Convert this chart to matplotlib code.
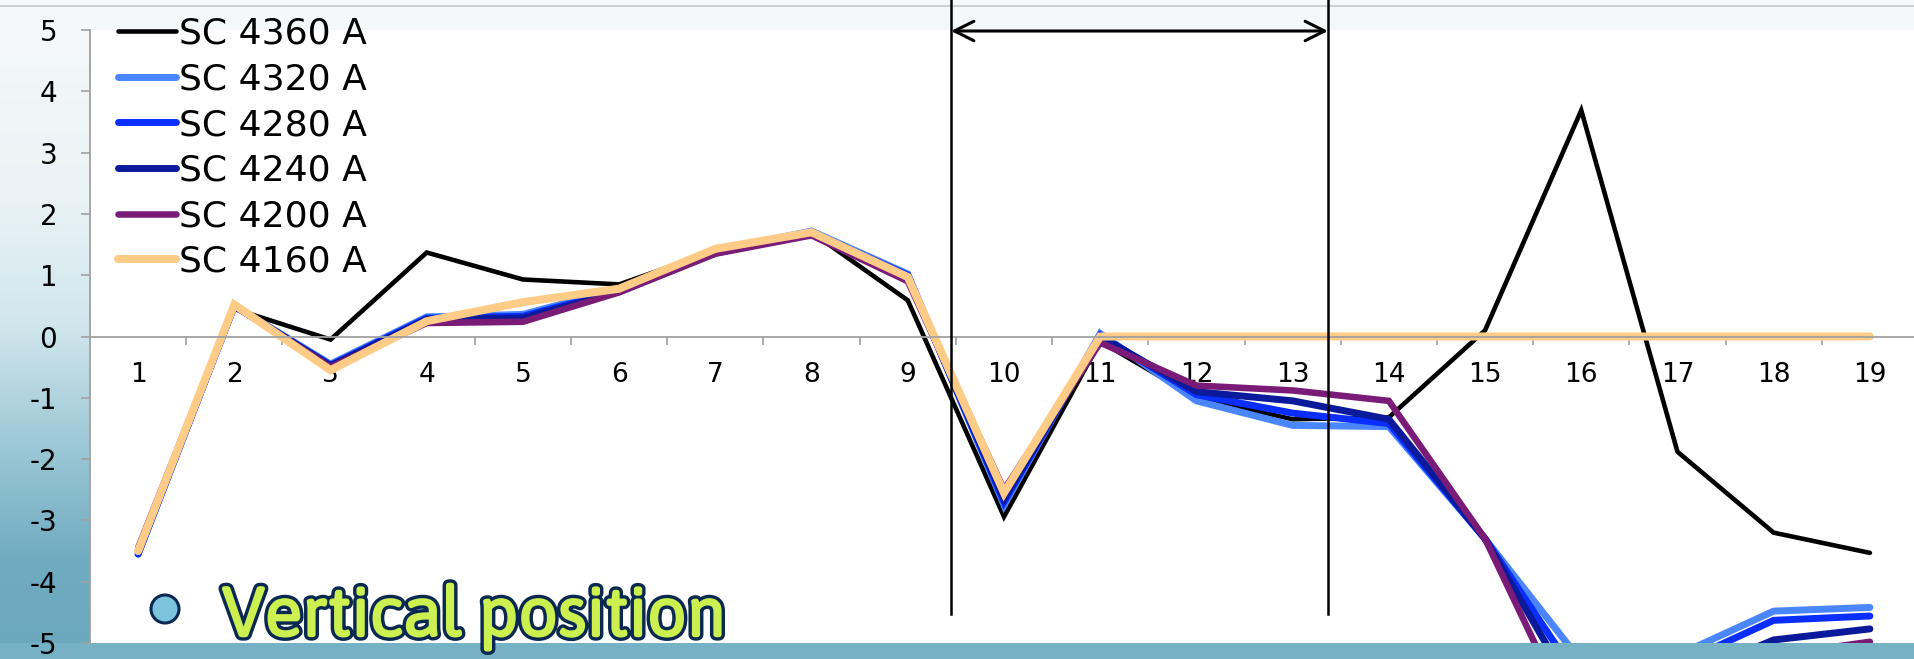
import numpy as np
import matplotlib
matplotlib.use("Agg")
import matplotlib.pyplot as plt
import matplotlib.patheffects as pe
from matplotlib.lines import Line2D
from matplotlib.patches import Ellipse, FancyArrowPatch
from matplotlib.colors import LinearSegmentedColormap

plt.rcParams['axes.unicode_minus'] = False
plt.rcParams['font.family'] = ['DejaVu Sans']

# data
positions = list(range(1, 20))
labels = ['SC 4360 A', 'SC 4320 A', 'SC 4280 A', 'SC 4240 A', 'SC 4200 A', 'SC 4160 A']
sc4360 = [-3.5, 0.45, -0.05, 1.37, 0.93, 0.85, 1.4, 1.7, 0.59, -2.94, -0.08, -1.0, -1.35, -1.32, 0.1, 3.69, -1.88, -3.2, -3.53]
sc4320 = [-3.55, 0.5, -0.45, 0.32, 0.36, 0.78, 1.4, 1.72, 1.02, -2.75, 0.05, -1.05, -1.45, -1.47, -3.3, -5.3, -5.2, -4.48, -4.42]
sc4280 = [-3.55, 0.5, -0.47, 0.3, 0.33, 0.75, 1.38, 1.7, 1.0, -2.7, 0.02, -0.95, -1.25, -1.42, -3.3, -5.65, -5.35, -4.63, -4.56]
sc4240 = [-3.5, 0.5, -0.48, 0.28, 0.3, 0.73, 1.36, 1.68, 0.97, -2.65, 0.0, -0.9, -1.05, -1.35, -3.3, -6.0, -5.6, -4.95, -4.77]
sc4200 = [-3.45, 0.5, -0.5, 0.22, 0.24, 0.72, 1.35, 1.65, 0.9, -2.5, -0.1, -0.8, -0.88, -1.05, -3.3, -6.6, -6.0, -5.2, -4.98]
sc4160 = [-3.5, 0.52, -0.55, 0.25, 0.56, 0.78, 1.43, 1.7, 0.97, -2.55, 0.0, 0, 0, 0, 0, 0, 0, 0, 0]
y_ticks = [-5, -4, -3, -2, -1, 0, 1, 2, 3, 4, 5]

series = [sc4360, sc4320, sc4280, sc4240, sc4200, sc4160]
colors = ['#000000', '#4A86FF', '#0A2EFF', '#0A1A9A', '#7B1B78', '#FFCC88']
widths = [3.3, 5.0, 5.0, 5.0, 4.7, 5.8]

W, H = 1915, 659
fig = plt.figure(figsize=(W / 100, H / 100), dpi=100)

# slide-like background
bg = fig.add_axes([0, 0, 1, 1], zorder=-5)
cmap = LinearSegmentedColormap.from_list('slide', [
    (0.0, '#F6F9FA'), (0.3, '#EAF3F6'), (0.5, '#CFE5EC'),
    (0.7, '#96C4D3'), (0.85, '#70ACC1'), (1.0, '#6AA8BD')])
grad = np.linspace(0, 1, 256).reshape(-1, 1)
bg.imshow(grad, cmap=cmap, aspect='auto', extent=[0, 1, 0, 1])
bg.axhspan(0, 16 / H, color='#75B2C6')
bg.axhspan(1 - 29 / H, 1, color='#F4F8F9')
bg.axhline(1 - 6 / H, color='#C8C8C8', lw=1.2)
bg.set_xlim(0, 1)
bg.set_ylim(0, 1)
bg.axis('off')

ax = fig.add_axes([90 / W, 16 / H, 1828 / W, 613 / H])
ax.set_facecolor('white')
for vals, lab, c, lw in zip(series, labels, colors, widths):
    ax.plot(positions, vals, color=c, lw=lw, label=lab,
            solid_capstyle='round', solid_joinstyle='miter')

ax.set_xlim(0.5, 19.5)
ax.set_ylim(-5, 5)
ax.spines['top'].set_visible(False)
ax.spines['right'].set_visible(False)
ax.spines['bottom'].set_position(('data', 0))
for s in ['left', 'bottom']:
    ax.spines[s].set_color('#A0A0A0')
    ax.spines[s].set_linewidth(1.3)

ax.set_yticks(y_ticks)
ax.set_yticklabels([str(v) for v in y_ticks])
ax.tick_params(axis='y', direction='out', length=6.5, width=1.2, color='#A0A0A0',
               labelsize=20, pad=17)

ax.set_xticks(np.arange(1.5, 19.5, 1.0))
ax.set_xticklabels([])
ax.set_xticks(positions, minor=True)
ax.set_xticklabels([str(p) for p in positions], minor=True)
ax.tick_params(axis='x', which='major', direction='out', length=6, width=1.2, color='#A0A0A0')
ax.tick_params(axis='x', which='minor', length=0, labelsize=19, pad=18)

fig.legend(loc='upper left', bbox_to_anchor=(118 / W, 1 - 17 / H), bbox_transform=fig.transFigure,
           frameon=False, fontsize=26, handlelength=1.6, handletextpad=0.1,
           labelspacing=0.32, borderpad=0, borderaxespad=0)

# bracket marking the region
xl, xr = 951 / W, 1328 / W
for xv in (xl, xr):
    fig.add_artist(Line2D([xv, xv], [1, 1 - 614 / H], color='black', lw=1.8,
                          transform=fig.transFigure))
ya = 1 - 31 / H
fig.add_artist(FancyArrowPatch((xl, ya), (xr, ya), transform=fig.transFigure,
               arrowstyle='<->,head_length=14,head_width=7', color='black', lw=2.2,
               shrinkA=0, shrinkB=0, mutation_scale=1))

# bullet and caption
fig.add_artist(Ellipse((165 / W, 1 - 609 / H), 28 / W, 28 / H, transform=fig.transFigure,
                       facecolor='#7CC3DD', edgecolor='#0A2850', lw=2.2, zorder=5))
fig.text(222 / W, 1 - 636 / H, 'Vertical position', fontsize=50, fontweight='bold',
         family=['Asap', 'DejaVu Sans'], color='#CCF050',
         ha='left', va='baseline', zorder=6,
         path_effects=[pe.Stroke(linewidth=6.5, foreground='#0A2850'),
                       pe.Stroke(linewidth=1.6, foreground='#CCF050'), pe.Normal()])

fig.savefig('out.png', dpi=100)
